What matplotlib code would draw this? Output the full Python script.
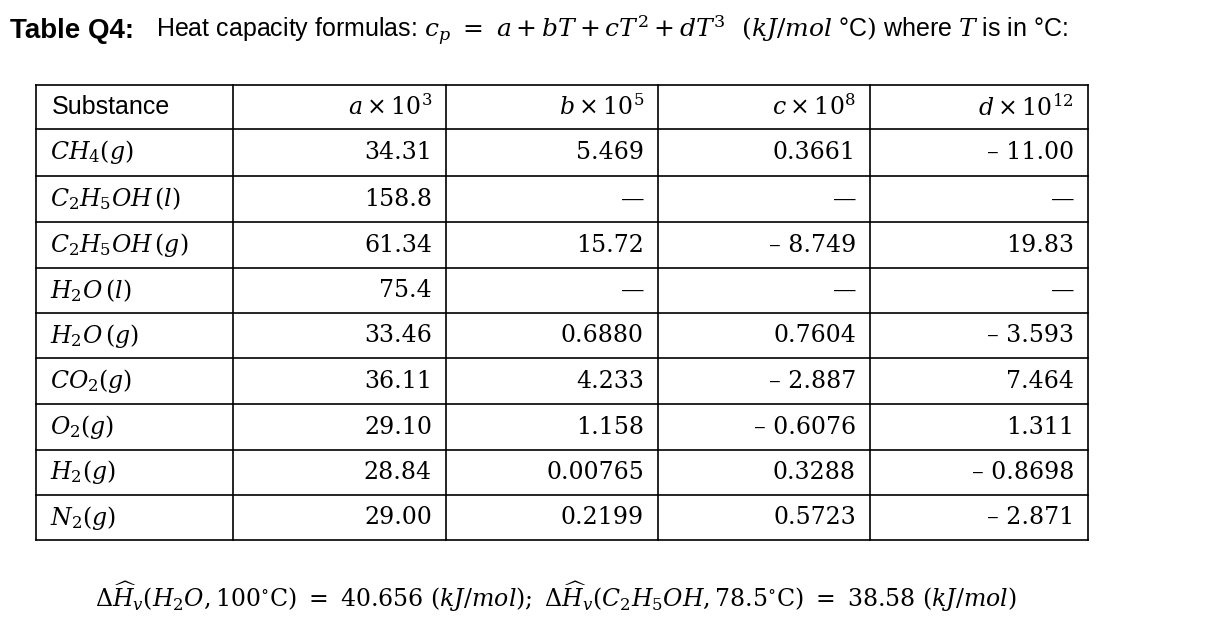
import matplotlib.pyplot as plt

plt.rcParams['mathtext.fontset'] = 'dejavuserif'
plt.rcParams['font.family'] = ['Liberation Sans', 'DejaVu Sans']

headers = ["Substance", r"$a\times10^3$", r"$b\times10^5$", r"$c\times10^8$", r"$d\times10^{12}$"]
substances = [r"$CH_4(g)$", r"$C_2H_5OH\,(l)$", r"$C_2H_5OH\,(g)$", r"$H_2O\,(l)$", r"$H_2O\,(g)$",
              r"$CO_2(g)$", r"$O_2(g)$", r"$H_2(g)$", r"$N_2(g)$"]
col_a = ["34.31", "158.8", "61.34", "75.4", "33.46", "36.11", "29.10", "28.84", "29.00"]
col_b = ["5.469", "—", "15.72", "—", "0.6880", "4.233", "1.158", "0.00765", "0.2199"]
col_c = ["0.3661", "—", "– 8.749", "—", "0.7604", "– 2.887", "– 0.6076", "0.3288", "0.5723"]
col_d = ["– 11.00", "—", "19.83", "—", "– 3.593", "7.464", "1.311", "– 0.8698", "– 2.871"]

col_x = [36, 233, 446, 658, 870, 1088]
row_y = [85, 129, 176, 222, 268, 313, 358, 404, 450, 495, 540]

fig = plt.figure(figsize=(12.08, 6.21), dpi=100)
ax = fig.add_axes([0, 0, 1, 1])
ax.set_xlim(0, 1208)
ax.set_ylim(621, 0)
ax.axis('off')

fs = 17
ax.text(10, 31, "Table Q4:", fontsize=20, fontweight='bold', va='center')
ax.text(156, 31, r"Heat capacity formulas: $c_p\ =\ a+bT+cT^2+dT^3\ \ (kJ/mol$ °C$)$ where $T$ is in °C:",
        fontsize=fs + 1, va='center')

for x in col_x:
    ax.plot([x, x], [row_y[0], row_y[-1]], color='black', lw=1.2)
for y in row_y:
    ax.plot([col_x[0], col_x[-1]], [y, y], color='black', lw=1.2)

def cy(i):
    return (row_y[i] + row_y[i + 1]) / 2

ax.text(col_x[0] + 16, cy(0), headers[0], fontsize=fs + 1, va='center')
for j in range(1, 5):
    ax.text(col_x[j + 1] - 14, cy(0), headers[j], fontsize=fs, va='center', ha='right')

columns = [col_a, col_b, col_c, col_d]
for i, name in enumerate(substances):
    ax.text(col_x[0] + 14, cy(i + 1), name, fontsize=fs, va='center')
    for j, col in enumerate(columns):
        ax.text(col_x[j + 2] - 14, cy(i + 1), col[i], fontsize=fs, va='center', ha='right',
                family='DejaVu Serif')

ax.text(95, 597, r"$\Delta\widehat{H}_v(H_2O,100{}^{\circ}\mathrm{C})\ =\ 40.656\ (kJ/mol);\ "
        r"\Delta\widehat{H}_v(C_2H_5OH,78.5{}^{\circ}\mathrm{C})\ =\ 38.58\ (kJ/mol)$",
        fontsize=fs, va='center')

fig.savefig("out.png", dpi=100)
